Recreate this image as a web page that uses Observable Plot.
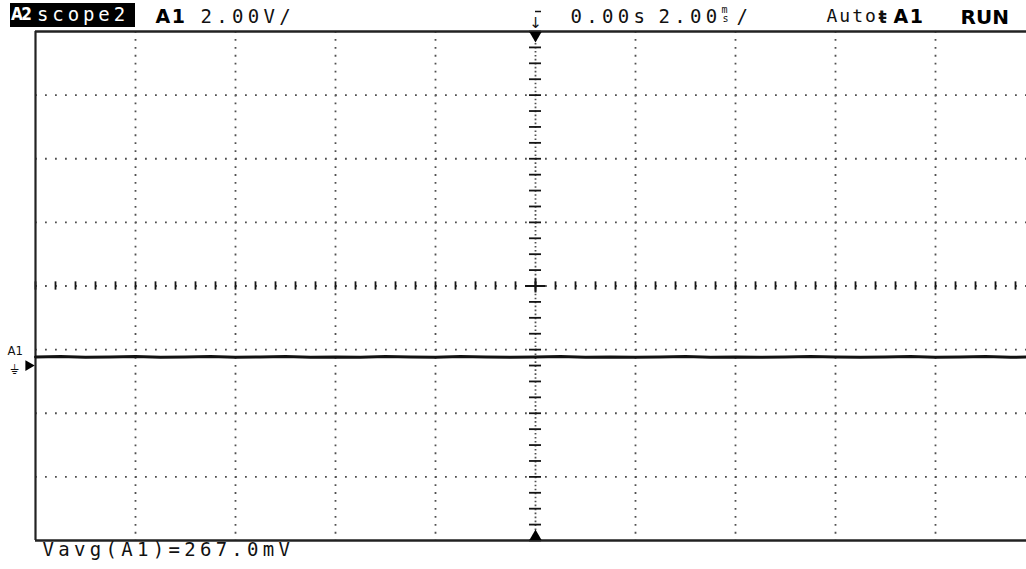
<!DOCTYPE html>
<html><head><meta charset="utf-8">
<script src="https://cdn.jsdelivr.net/npm/d3@7"></script>
<script src="https://cdn.jsdelivr.net/npm/@observablehq/plot@0.6"></script>
<style>
html,body{margin:0;padding:0;background:#fff;overflow:hidden;}
#wrap{position:relative;width:1026px;height:569px;}
#wrap svg{display:block;}
g[font-family="DejaVu Sans Mono"][font-size="19"] text{letter-spacing:4.3px;}
g[font-family="DejaVu Sans Mono"][font-size="18"] text{letter-spacing:2px;}
g[font-family="DejaVu Sans"][font-weight="bold"][font-size="19"] text{letter-spacing:1.5px;}
#box{position:absolute;left:10px;top:3px;width:125px;height:24px;background:#000;color:#fff;white-space:nowrap;}
#box .a2{position:absolute;left:1px;top:1px;font:bold 17px "DejaVu Sans Condensed","DejaVu Sans";font-stretch:condensed;letter-spacing:-1.5px;}
#box .nm{position:absolute;left:27px;top:0px;font:19px "DejaVu Sans Mono";letter-spacing:3.9px;}
</style></head><body>
<div id="wrap"><div id="box"><span class="a2">A2</span><span class="nm">scope2</span></div></div>
<script>
// ---- data read from the screen ----
// time in ms (2.00 ms/div, trigger at 0.00 s)
const timeMs = [-10,-9.5,-9,-8.5,-8,-7.5,-7,-6.5,-6,-5.5,-5,-4.5,-4,-3.5,-3,-2.5,-2,-1.5,-1,-0.5,0,0.5,1,1.5,2,2.5,3,3.5,4,4.5,5,5.5,6,6.5,7,7.5,8,8.5,9,9.5,10];
// channel A1 voltage in V (2.00 V/div, ground marker at 0 V)
const traceV = [0.27,0.28,0.26,0.27,0.28,0.26,0.27,0.28,0.26,0.27,0.28,0.26,0.27,0.26,0.28,0.27,0.26,0.28,0.27,0.26,0.27,0.28,0.26,0.27,0.26,0.27,0.28,0.26,0.27,0.26,0.27,0.28,0.27,0.26,0.27,0.28,0.26,0.27,0.28,0.26,0.27];
const timeGridMs = [-8,-6,-4,-2,2,4,6,8];
const voltGrid = [-3.5,-1.5,0.5,4.5,6.5,8.5];
const centerV = 2.5;
const trigTime = [0];
const groundMarker = [{v: 0, label: "A1"}];
const headerScope = [
  {text: "2.00V/", dx: 165},
  {text: "0.00s", dx: 535},
  {text: "2.00", dx: 623},
  {text: "/", dx: 701}
];
const autoLabel = ["Auto"];
const headerBold = [
  {text: "A1", dx: 120},
  {text: "A1", dx: 858}
];
const runLabel = ["RUN"];
const measurement = ["Vavg(A1)=267.0mV"];

const trace = timeMs.map((t, i) => ({t, v: traceV[i]}));
const xMin = -10, yMin = -5.5, yMax = 10.5;
const ink = "#151515", dotc = "#505050";
const hdrDy = -22;

const headerMarks = [
  ...headerScope.map(h => Plot.text([h], {text: "text", frameAnchor: "top-left", dx: h.dx, dy: hdrDy, textAnchor: "start", fontSize: 19, fontFamily: "DejaVu Sans Mono", fill: "#111"})),
  ...headerBold.map(h => Plot.text([h], {text: "text", frameAnchor: "top-left", dx: h.dx, dy: hdrDy, textAnchor: "start", fontSize: 19, fontWeight: "bold", fontFamily: "DejaVu Sans", fill: "#000"}))
];

const plot = Plot.plot({
  width: 1026, height: 569,
  marginLeft: 35, marginRight: -9, marginTop: 31, marginBottom: 29,
  x: {domain: [-10, 10], axis: null},
  y: {domain: [yMin, yMax], axis: null},
  style: {background: "white", overflow: "hidden", fontFamily: "DejaVu Sans Mono"},
  marks: [
    // dotted graticule
    Plot.ruleY(voltGrid, {stroke: dotc, strokeWidth: 1.8, strokeDasharray: "1.8,8.2"}),
    Plot.ruleX(timeGridMs, {stroke: dotc, strokeWidth: 1.8, strokeDasharray: "1.8,6.15"}),
    // centre horizontal axis with ticks
    Plot.ruleY([centerV], {stroke: dotc, strokeWidth: 1.8, strokeDasharray: "1.8,8.2"}),
    Plot.ruleX(d3.range(-10, 10.001, 0.4), {x: d => d, y1: centerV - 0.13, y2: centerV + 0.13, stroke: ink, strokeWidth: 1.8}),
    // centre vertical axis with ticks
    Plot.ruleX(trigTime, {stroke: dotc, strokeWidth: 1.8, strokeDasharray: "1.6,2.38"}),
    Plot.ruleY(d3.range(-5.5, 10.501, 0.5), {y: d => d, x1: -0.12, x2: 0.12, stroke: ink, strokeWidth: 1.8}),
    // centre cross
    Plot.ruleY([centerV], {x1: -0.2, x2: 0.2, stroke: ink, strokeWidth: 2}),
    Plot.ruleX(trigTime, {y1: centerV - 0.22, y2: centerV + 0.22, stroke: ink, strokeWidth: 2}),
    // frame (left, top, bottom)
    Plot.ruleX([xMin], {stroke: "#222", strokeWidth: 2.2}),
    Plot.ruleY([yMin, yMax], {stroke: "#222", strokeWidth: 2.4}),
    // trace
    Plot.line(trace, {x: "t", y: "v", stroke: "#111", strokeWidth: 3}),
    // trigger position markers
    Plot.dot(trigTime, {x: d => d, frameAnchor: "top", dy: 4, symbol: "triangle", rotate: 180, r: 4.5, fill: "#000", stroke: "none"}),
    Plot.dot(trigTime, {x: d => d, frameAnchor: "bottom", dy: -4, symbol: "triangle", r: 4.5, fill: "#000", stroke: "none"}),
    // ground marker
    Plot.dot(groundMarker, {y: "v", frameAnchor: "left", dx: -7, symbol: "triangle", rotate: 90, r: 4, fill: "#000", stroke: "none"}),
    Plot.text(groundMarker, {y: "v", text: "label", frameAnchor: "left", dx: -28, dy: -15, textAnchor: "start", fontSize: 13, fontFamily: "DejaVu Sans Condensed", fill: "#111"}),
    Plot.text(groundMarker, {y: "v", text: () => "⏚", frameAnchor: "left", dx: -21, dy: 4, textAnchor: "middle", fontSize: 13, fontFamily: "DejaVu Sans", fill: "#111"}),
    // header
    ...headerMarks,
    Plot.text(autoLabel, {text: d => d, frameAnchor: "top-left", dx: 791, dy: hdrDy, textAnchor: "start", fontSize: 18, fontFamily: "DejaVu Sans Mono", fill: "#111"}),
    Plot.text(runLabel, {text: d => d, frameAnchor: "top-left", dx: 925, dy: hdrDy, textAnchor: "start", fontSize: 20, fontWeight: "bold", fontFamily: "DejaVu Sans", fill: "#000"}),
    Plot.text(["m"], {text: d => d, frameAnchor: "top-left", dx: 686, dy: -26, textAnchor: "start", fontSize: 10, fontFamily: "DejaVu Sans Mono", fill: "#111"}),
    Plot.text(["s"], {text: d => d, frameAnchor: "top-left", dx: 687, dy: -17, textAnchor: "start", fontSize: 10, fontFamily: "DejaVu Sans Mono", fill: "#111"}),
    Plot.text(["ŧ"], {text: d => d, frameAnchor: "top-left", dx: 843, dy: hdrDy + 1, textAnchor: "start", fontSize: 17, fontWeight: "bold", fontFamily: "DejaVu Sans", fill: "#111"}),
    Plot.text(trigTime, {x: d => d, text: () => "↓", frameAnchor: "top", dy: -14, fontSize: 15, fontFamily: "DejaVu Sans", fill: "#111"}),
    Plot.ruleY([yMax], {x1: 0, x2: 0.12, dy: -20, stroke: "#111", strokeWidth: 1.5}),
    // measurement
    Plot.text(measurement, {text: d => d, frameAnchor: "bottom-left", dx: 7, dy: 15, textAnchor: "start", fontSize: 19, fontFamily: "DejaVu Sans Mono", fill: "#111"})
  ]
});
document.getElementById("wrap").prepend(plot);
</script>
</body></html>
